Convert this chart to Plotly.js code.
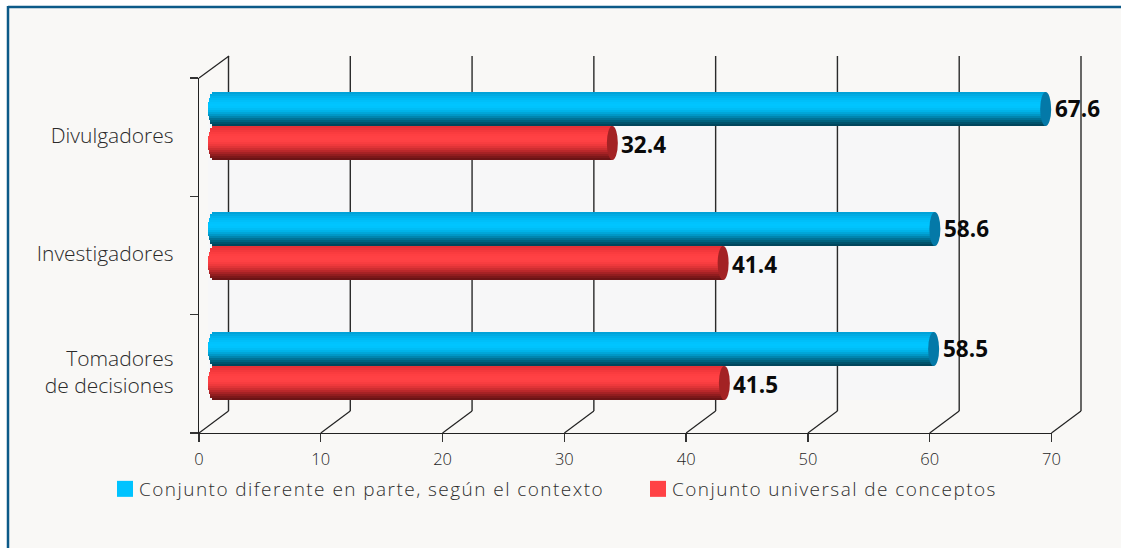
<!DOCTYPE html>
<html><head><meta charset="utf-8">
<script src="https://cdn.plot.ly/plotly-3.0.1.min.js"></script>
<style>
html,body{margin:0;padding:0;background:#fff}
#c{width:1121px;height:548px}
.legendtext,.legend2text{letter-spacing:1.45px}
g.ytick text{translate:0 -2px}
</style></head><body><div id="c"></div>
<script>
const categories=['Tomadores<br>de decisiones','Investigadores','Divulgadores'];
const seriesA=[58.5,58.6,67.6];
const seriesB=[41.5,41.4,32.4];
const nameA='Conjunto diferente en parte, según el contexto';
const nameB='Conjunto universal de conceptos';
const xTicks=[0,10,20,30,40,50,60,70];
const blueShades=['#00a2d8','#00abe3','#00b3ec','#00baf3','#00bff9','#00c3fe','#00c5ff','#00c3fd','#00bdf5','#00b3e9','#00a6d9','#0097c6','#0085af','#007296','#00637f','#00536c','#00465c'];
const redShades=['#e83236','#ee3539','#f4383c','#fa3c3f','#fe3f42','#ff4144','#ff4245','#fe4144','#f83d40','#ee393c','#e03437','#cf2e31','#bb282b','#a62225','#911d1f','#7d181a','#6c1416'];
const capA='#0479a8', capB='#a32224';

const W=1121,H=548;
const fx=p=>p/W, fy=p=>1-p/H;
const depthX=29.5, depthY=22;
const capRx=5.5, capRy=17;
const barHeight=0.2833;
const stripUnit=barHeight/17;
const barScale=(1075.2-213.5)/70;
const axisScale=852.5/70;

const traces=[];
traces.push({type:'scatter',mode:'none',x:categories.map(()=>0),y:categories,xaxis:'x',yaxis:'y',showlegend:false,hoverinfo:'skip'});
function addBar(vals,shades,name,upper){
  shades.forEach((col,i)=>{
    const t=(i+0.5)/shades.length*2-1;
    const base=-capRx/barScale*Math.sqrt(1-t*t);
    traces.push({type:'bar',orientation:'h',xaxis:'x2',yaxis:'y2',cliponaxis:false,
      y:categories,x:vals.map(v=>v-base),base:base,
      width:stripUnit*1.02,
      offset:upper? stripUnit*(16-i) : stripUnit*(-1-i),
      marker:{color:col,line:{width:0}},
      showlegend:false,hoverinfo:'skip',name:name});
  });
}
addBar(seriesA,blueShades,nameA,true);
addBar(seriesB,redShades,nameB,false);
[[nameA,'#00c3ff','legend'],[nameB,'#ff4245','legend2']].forEach(([n,c,l])=>{
  traces.push({type:'bar',orientation:'h',xaxis:'x2',yaxis:'y2',y:[categories[0]],x:[0],width:0.001,marker:{color:c,line:{width:0}},name:n,showlegend:true,legend:l,hoverinfo:'skip'});
});

const shapes=[];
shapes.push({type:'rect',xref:'paper',yref:'paper',x0:fx(8),x1:1,y0:0,y1:fy(7),fillcolor:'#f9f8f6',line:{width:0},layer:'below'});
shapes.push({type:'rect',xref:'paper',yref:'paper',x0:fx(208),x1:fx(960),y0:fy(400),y1:fy(92),fillcolor:'#f7f7f8',line:{width:0},layer:'below'});
shapes.push({type:'line',xref:'paper',yref:'paper',x0:fx(8),x1:1,y0:fy(7),y1:fy(7),line:{color:'#0c5a88',width:2.5},layer:'below'});
shapes.push({type:'line',xref:'paper',yref:'paper',x0:fx(8),x1:fx(8),y0:fy(6),y1:0,line:{color:'#0c5a88',width:2.5},layer:'below'});
xTicks.forEach(t=>{
  shapes.push({type:'line',xref:'x3',xsizemode:'pixel',xanchor:t,x0:0,x1:depthX,yref:'paper',ysizemode:'pixel',yanchor:fy(433),y0:0,y1:depthY,line:{color:'#222',width:1.2},layer:'below'});
  shapes.push({type:'line',xref:'x3',xsizemode:'pixel',xanchor:t,x0:depthX,x1:depthX,yref:'paper',y0:fy(411),y1:fy(56),line:{color:'#2a2a2a',width:1.4},layer:'below'});
});
shapes.push({type:'line',xref:'paper',yref:'paper',x0:fx(199),x1:fx(229),y0:fy(78),y1:fy(56),line:{color:'#222',width:1.2},layer:'below'});
function addCaps(vals,color,sign){
  vals.forEach((v,i)=>{
    shapes.push({type:'circle',xref:'x2',xsizemode:'pixel',xanchor:v,x0:-capRx,x1:capRx,
      yref:'y2',ysizemode:'pixel',yanchor:i+sign*barHeight/2,y0:-capRy,y1:capRy,fillcolor:color,line:{width:0},layer:'above'});
  });
}
addCaps(seriesA,capA,1);
addCaps(seriesB,capB,-1);

const annotations=[];
function addLabels(vals,sign,ys){
  vals.forEach((v,i)=>annotations.push({xref:'x2',yref:'y2',x:v,y:i+sign*barHeight/2,text:v.toFixed(1),showarrow:false,xanchor:'left',yanchor:'middle',xshift:capRx+1.5,yshift:ys,align:'left',
    font:{family:'"Open Sans",sans-serif',size:22.5,color:'#0a0a0a',weight:700}}));
}
addLabels(seriesA,1,0.5);
addLabels(seriesB,-1,-1);

const legendBase={orientation:'h',xanchor:'left',yanchor:'middle',bgcolor:'rgba(0,0,0,0)',font:{size:19,color:'#2e2e2e',weight:300},itemclick:false,itemdoubleclick:false,itemwidth:30};
const layout={
  width:W,height:H,margin:{l:0,r:0,t:0,b:0,pad:0},
  paper_bgcolor:'#ffffff',plot_bgcolor:'rgba(0,0,0,0)',
  barmode:'overlay',bargap:0,showlegend:true,
  font:{family:'"Open Sans",sans-serif',color:'#333'},
  xaxis:{domain:[fx(199),fx(1051.5)],range:[0,70],tickvals:xTicks,ticks:'outside',ticklen:8,tickwidth:1.3,tickcolor:'#333',showgrid:false,zeroline:false,showline:true,linecolor:'#222',linewidth:1.3,anchor:'y',tickfont:{size:16.5,color:'#1e1e1e',weight:300},ticklabelstandoff:3,automargin:false,fixedrange:true},
  yaxis:{domain:[fy(433),fy(78)],type:'category',categoryorder:'array',categoryarray:categories,range:[-0.5,2.5],tickson:'boundaries',ticks:'outside',ticklen:8,tickwidth:1.3,tickcolor:'#333',showgrid:false,zeroline:false,showline:true,linecolor:'#222',linewidth:1.3,anchor:'x',tickfont:{size:21,color:'#2a2a2a',weight:300},ticklabelstandoff:20,automargin:false,fixedrange:true},
  xaxis2:{domain:[fx(213.5-barScale),fx(1075.2)],range:[-1,70],visible:false,anchor:'y2',fixedrange:true},
  yaxis2:{domain:[fy(426),fy(66)],type:'category',categoryorder:'array',categoryarray:categories,range:[-0.5,2.5],visible:false,anchor:'x2',fixedrange:true},
  xaxis3:{domain:[fx(199),fx(199+74*axisScale)],range:[0,74],visible:false,anchor:'y',fixedrange:true},
  shapes:shapes,annotations:annotations,
  legend:Object.assign({},legendBase,{x:fx(99),y:fy(489)}),
  legend2:Object.assign({},legendBase,{x:fx(632),y:fy(489)})
};
Plotly.newPlot('c',traces,layout,{displayModeBar:false,staticPlot:true}).then(()=>{
  document.querySelectorAll('g.legendpoints path').forEach(p=>{
    if(p.getAttribute('d')&&p.getAttribute('d').startsWith('M6,6')) p.setAttribute('d','M14,8H-2V-8H14Z');
  });
});
</script></body></html>
